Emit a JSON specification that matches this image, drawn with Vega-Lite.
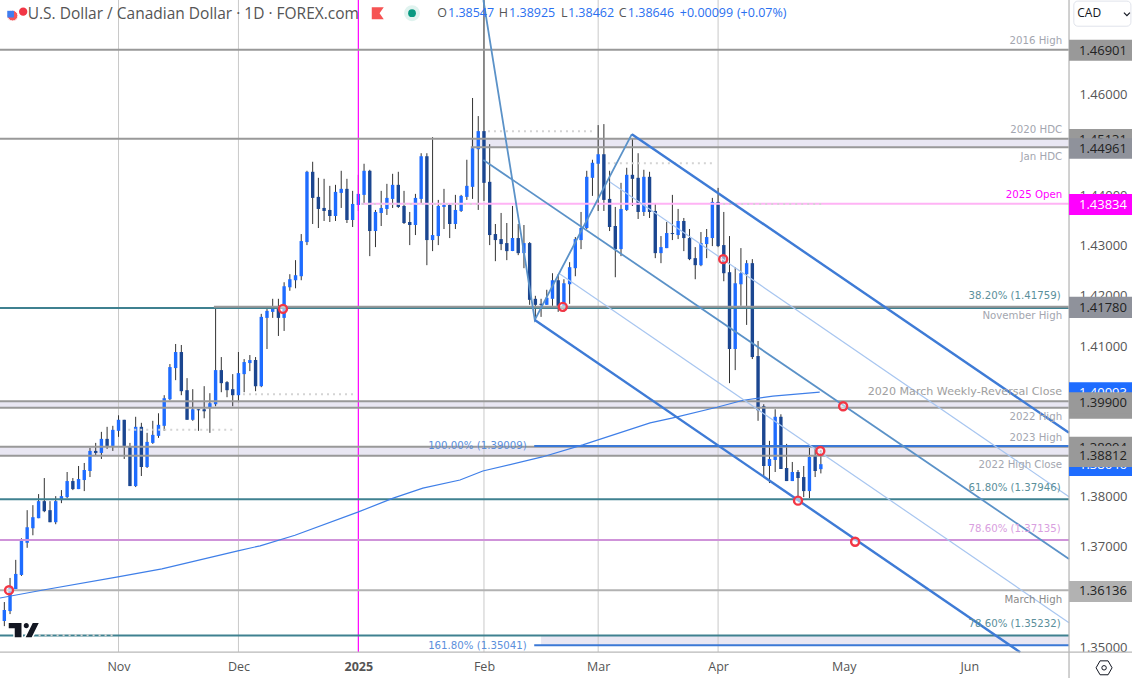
{
  "$schema": "https://vega.github.io/schema/vega-lite/v5.json",
  "description": "USD/CAD daily candles with levels and a descending pitchfork",
  "width": 1132,
  "height": 678,
  "autosize": {"type": "none"},
  "padding": 0,
  "background": "#ffffff",
  "datasets": {
    "candles": [
      {"i":0,"o":1.3552,"h":1.3590,"l":1.3542,"c":1.3574},{"i":1,"o":1.3572,"h":1.3638,"l":1.3566,"c":1.3618},{"i":2,"o":1.3616,"h":1.3674,"l":1.3616,"c":1.3646},{"i":3,"o":1.3644,"h":1.3717,"l":1.3642,"c":1.3712},
      {"i":4,"o":1.3708,"h":1.3773,"l":1.3698,"c":1.3739},{"i":5,"o":1.3737,"h":1.3783,"l":1.3723,"c":1.3759},{"i":6,"o":1.3757,"h":1.3805,"l":1.3757,"c":1.3791},{"i":7,"o":1.3791,"h":1.3837,"l":1.3769,"c":1.3771},
      {"i":8,"o":1.3773,"h":1.3791,"l":1.3749,"c":1.3749},{"i":9,"o":1.3749,"h":1.3801,"l":1.3745,"c":1.3791},{"i":10,"o":1.3793,"h":1.3813,"l":1.3787,"c":1.3801},{"i":11,"o":1.3799,"h":1.3849,"l":1.3797,"c":1.3831},
      {"i":12,"o":1.3831,"h":1.3837,"l":1.3813,"c":1.3815},{"i":13,"o":1.3815,"h":1.3861,"l":1.3815,"c":1.3835},{"i":14,"o":1.3833,"h":1.3867,"l":1.3811,"c":1.3853},{"i":15,"o":1.3851,"h":1.3897,"l":1.3839,"c":1.3891},
      {"i":16,"o":1.3891,"h":1.3907,"l":1.3883,"c":1.3887},{"i":17,"o":1.3887,"h":1.3929,"l":1.3875,"c":1.3915},{"i":18,"o":1.3915,"h":1.3939,"l":1.3895,"c":1.3901},{"i":19,"o":1.3901,"h":1.3941,"l":1.3891,"c":1.3933},
      {"i":20,"o":1.3931,"h":1.3962,"l":1.3919,"c":1.3953},{"i":21,"o":1.3953,"h":1.3953,"l":1.3875,"c":1.3901},{"i":22,"o":1.3899,"h":1.3907,"l":1.3821,"c":1.3821},{"i":23,"o":1.3821,"h":1.3959,"l":1.3819,"c":1.3939},
      {"i":24,"o":1.3939,"h":1.3947,"l":1.3841,"c":1.3859},{"i":25,"o":1.3859,"h":1.3927,"l":1.3857,"c":1.3909},{"i":26,"o":1.3907,"h":1.3951,"l":1.3905,"c":1.3923},{"i":27,"o":1.3921,"h":1.3966,"l":1.3917,"c":1.3943},
      {"i":28,"o":1.3941,"h":1.4002,"l":1.3931,"c":1.3996},{"i":29,"o":1.3994,"h":1.4064,"l":1.3992,"c":1.4058},{"i":30,"o":1.4056,"h":1.4104,"l":1.4032,"c":1.4088},{"i":31,"o":1.4088,"h":1.4102,"l":1.4002,"c":1.4010},
      {"i":32,"o":1.4012,"h":1.4036,"l":1.3953,"c":1.3953},{"i":33,"o":1.3953,"h":1.4014,"l":1.3951,"c":1.3974},{"i":34,"o":1.3974,"h":1.3974,"l":1.3931,"c":1.3972},{"i":35,"o":1.3974,"h":1.4020,"l":1.3956,"c":1.3970},
      {"i":36,"o":1.3976,"h":1.4006,"l":1.3927,"c":1.3986},{"i":37,"o":1.3984,"h":1.4174,"l":1.3980,"c":1.4052},{"i":38,"o":1.4052,"h":1.4078,"l":1.4008,"c":1.4026},{"i":39,"o":1.4028,"h":1.4030,"l":1.3998,"c":1.4012},
      {"i":40,"o":1.4014,"h":1.4044,"l":1.3980,"c":1.4002},{"i":41,"o":1.4002,"h":1.4088,"l":1.3988,"c":1.4046},{"i":42,"o":1.4044,"h":1.4074,"l":1.4008,"c":1.4068},{"i":43,"o":1.4066,"h":1.4082,"l":1.4050,"c":1.4072},
      {"i":44,"o":1.4072,"h":1.4078,"l":1.4010,"c":1.4020},{"i":45,"o":1.4020,"h":1.4164,"l":1.4018,"c":1.4158},{"i":46,"o":1.4156,"h":1.4174,"l":1.4094,"c":1.4170},{"i":47,"o":1.4168,"h":1.4194,"l":1.4156,"c":1.4176},
      {"i":48,"o":1.4176,"h":1.4194,"l":1.4120,"c":1.4156},{"i":49,"o":1.4156,"h":1.4227,"l":1.4130,"c":1.4219},{"i":50,"o":1.4217,"h":1.4243,"l":1.4210,"c":1.4233},{"i":51,"o":1.4231,"h":1.4271,"l":1.4215,"c":1.4241},
      {"i":52,"o":1.4239,"h":1.4323,"l":1.4231,"c":1.4309},{"i":53,"o":1.4307,"h":1.4449,"l":1.4301,"c":1.4447},{"i":54,"o":1.4447,"h":1.4467,"l":1.4343,"c":1.4395},{"i":55,"o":1.4397,"h":1.4435,"l":1.4335,"c":1.4373},
      {"i":56,"o":1.4375,"h":1.4433,"l":1.4349,"c":1.4369},{"i":57,"o":1.4371,"h":1.4419,"l":1.4347,"c":1.4359},{"i":58,"o":1.4359,"h":1.4421,"l":1.4349,"c":1.4407},{"i":59,"o":1.4405,"h":1.4449,"l":1.4375,"c":1.4413},
      {"i":60,"o":1.4413,"h":1.4433,"l":1.4345,"c":1.4351},{"i":61,"o":1.4351,"h":1.4409,"l":1.4337,"c":1.4383},{"i":62,"o":1.4381,"h":1.4441,"l":1.4369,"c":1.4403},{"i":63,"o":1.4401,"h":1.4463,"l":1.4383,"c":1.4449},
      {"i":64,"o":1.4449,"h":1.4451,"l":1.4279,"c":1.4329},{"i":65,"o":1.4329,"h":1.4371,"l":1.4297,"c":1.4367},{"i":66,"o":1.4365,"h":1.4409,"l":1.4339,"c":1.4375},{"i":67,"o":1.4373,"h":1.4423,"l":1.4361,"c":1.4395},
      {"i":68,"o":1.4393,"h":1.4443,"l":1.4375,"c":1.4421},{"i":69,"o":1.4421,"h":1.4447,"l":1.4375,"c":1.4377},{"i":70,"o":1.4379,"h":1.4409,"l":1.4343,"c":1.4345},{"i":71,"o":1.4347,"h":1.4367,"l":1.4301,"c":1.4341},
      {"i":72,"o":1.4341,"h":1.4403,"l":1.4321,"c":1.4395},{"i":73,"o":1.4393,"h":1.4484,"l":1.4383,"c":1.4478},{"i":74,"o":1.4478,"h":1.4484,"l":1.4261,"c":1.4311},{"i":75,"o":1.4311,"h":1.4516,"l":1.4289,"c":1.4321},
      {"i":76,"o":1.4319,"h":1.4391,"l":1.4301,"c":1.4379},{"i":77,"o":1.4377,"h":1.4413,"l":1.4333,"c":1.4381},{"i":78,"o":1.4381,"h":1.4383,"l":1.4315,"c":1.4343},{"i":79,"o":1.4343,"h":1.4401,"l":1.4333,"c":1.4371},
      {"i":80,"o":1.4369,"h":1.4401,"l":1.4367,"c":1.4399},{"i":81,"o":1.4397,"h":1.4471,"l":1.4391,"c":1.4419},{"i":82,"o":1.4417,"h":1.4594,"l":1.4393,"c":1.4494},{"i":83,"o":1.4492,"h":1.4558,"l":1.4371,"c":1.4528},
      {"i":84,"o":1.4528,"h":1.4789,"l":1.4389,"c":1.4425},{"i":85,"o":1.4427,"h":1.4502,"l":1.4301,"c":1.4321},{"i":86,"o":1.4323,"h":1.4343,"l":1.4269,"c":1.4311},{"i":87,"o":1.4313,"h":1.4365,"l":1.4291,"c":1.4303},
      {"i":88,"o":1.4305,"h":1.4345,"l":1.4271,"c":1.4289},{"i":89,"o":1.4289,"h":1.4379,"l":1.4289,"c":1.4315},{"i":90,"o":1.4315,"h":1.4343,"l":1.4281,"c":1.4285},{"i":91,"o":1.4285,"h":1.4341,"l":1.4255,"c":1.4305},
      {"i":92,"o":1.4305,"h":1.4307,"l":1.4182,"c":1.4192},{"i":93,"o":1.4194,"h":1.4200,"l":1.4152,"c":1.4182},{"i":94,"o":1.4184,"h":1.4194,"l":1.4158,"c":1.4182},{"i":95,"o":1.4182,"h":1.4212,"l":1.4182,"c":1.4196},
      {"i":96,"o":1.4194,"h":1.4245,"l":1.4180,"c":1.4231},{"i":97,"o":1.4231,"h":1.4243,"l":1.4168,"c":1.4180},{"i":98,"o":1.4174,"h":1.4233,"l":1.4168,"c":1.4225},{"i":99,"o":1.4223,"h":1.4267,"l":1.4184,"c":1.4257},
      {"i":100,"o":1.4255,"h":1.4317,"l":1.4239,"c":1.4313},{"i":101,"o":1.4311,"h":1.4367,"l":1.4293,"c":1.4335},{"i":102,"o":1.4335,"h":1.4449,"l":1.4333,"c":1.4437},{"i":103,"o":1.4435,"h":1.4471,"l":1.4399,"c":1.4465},
      {"i":104,"o":1.4463,"h":1.4540,"l":1.4369,"c":1.4482},{"i":105,"o":1.4482,"h":1.4542,"l":1.4369,"c":1.4391},{"i":106,"o":1.4393,"h":1.4449,"l":1.4329,"c":1.4337},{"i":107,"o":1.4339,"h":1.4377,"l":1.4237,"c":1.4293},
      {"i":108,"o":1.4293,"h":1.4425,"l":1.4279,"c":1.4373},{"i":109,"o":1.4371,"h":1.4455,"l":1.4369,"c":1.4441},{"i":110,"o":1.4441,"h":1.4514,"l":1.4379,"c":1.4433},{"i":111,"o":1.4435,"h":1.4484,"l":1.4353,"c":1.4367},
      {"i":112,"o":1.4367,"h":1.4451,"l":1.4359,"c":1.4437},{"i":113,"o":1.4437,"h":1.4447,"l":1.4355,"c":1.4367},{"i":114,"o":1.4369,"h":1.4383,"l":1.4275,"c":1.4285},{"i":115,"o":1.4285,"h":1.4319,"l":1.4265,"c":1.4297},
      {"i":116,"o":1.4295,"h":1.4347,"l":1.4295,"c":1.4325},{"i":117,"o":1.4325,"h":1.4401,"l":1.4311,"c":1.4323},{"i":118,"o":1.4321,"h":1.4373,"l":1.4313,"c":1.4349},{"i":119,"o":1.4349,"h":1.4355,"l":1.4289,"c":1.4315},
      {"i":120,"o":1.4315,"h":1.4333,"l":1.4271,"c":1.4273},{"i":121,"o":1.4275,"h":1.4297,"l":1.4233,"c":1.4261},{"i":122,"o":1.4261,"h":1.4327,"l":1.4259,"c":1.4305},{"i":123,"o":1.4303,"h":1.4333,"l":1.4275,"c":1.4317},
      {"i":124,"o":1.4315,"h":1.4395,"l":1.4299,"c":1.4387},{"i":125,"o":1.4387,"h":1.4415,"l":1.4297,"c":1.4299},{"i":126,"o":1.4301,"h":1.4367,"l":1.4229,"c":1.4245},{"i":127,"o":1.4247,"h":1.4319,"l":1.4026,"c":1.4094},
      {"i":128,"o":1.4094,"h":1.4257,"l":1.4052,"c":1.4225},{"i":129,"o":1.4223,"h":1.4295,"l":1.4180,"c":1.4245},{"i":130,"o":1.4243,"h":1.4271,"l":1.4142,"c":1.4265},{"i":131,"o":1.4265,"h":1.4273,"l":1.4074,"c":1.4078},
      {"i":132,"o":1.4080,"h":1.4110,"l":1.3951,"c":1.3972},{"i":133,"o":1.3980,"h":1.3984,"l":1.3841,"c":1.3861},{"i":134,"o":1.3861,"h":1.3911,"l":1.3827,"c":1.3875},{"i":135,"o":1.3873,"h":1.3974,"l":1.3849,"c":1.3959},
      {"i":136,"o":1.3959,"h":1.3964,"l":1.3855,"c":1.3855},{"i":137,"o":1.3857,"h":1.3905,"l":1.3831,"c":1.3831},{"i":138,"o":1.3831,"h":1.3869,"l":1.3831,"c":1.3849},{"i":139,"o":1.3849,"h":1.3853,"l":1.3793,"c":1.3837},
      {"i":140,"o":1.3839,"h":1.3861,"l":1.3799,"c":1.3811},{"i":141,"o":1.3811,"h":1.3897,"l":1.3797,"c":1.3879},{"i":142,"o":1.3881,"h":1.3899,"l":1.3839,"c":1.3851},{"i":143,"o":1.38547,"h":1.38925,"l":1.38462,"c":1.38646}
    ],
    "zones": [
      {"from":81.7,"to":186.46,"top":1.4513,"bottom":1.44961},
      {"from":-0.76,"to":186.46,"top":1.399,"bottom":1.3977},
      {"from":-0.76,"to":186.46,"top":1.38994,"bottom":1.38812},
      {"from":94,"to":186.46,"top":1.35232,"bottom":1.35041}
    ],
    "levels": [
      {"from":-0.76,"to":186.46,"price":1.46901,"kind":"gray"},
      {"from":-0.76,"to":186.46,"price":1.4513,"kind":"gray"},
      {"from":81.7,"to":186.46,"price":1.44961,"kind":"gray"},
      {"from":62.5,"to":186.46,"price":1.43834,"kind":"pink"},
      {"from":-0.76,"to":186.46,"price":1.41759,"kind":"teal"},
      {"from":36.7,"to":186.46,"price":1.4178,"kind":"gray"},
      {"from":-0.76,"to":186.46,"price":1.399,"kind":"gray"},
      {"from":-0.76,"to":186.46,"price":1.3977,"kind":"gray"},
      {"from":-0.76,"to":186.46,"price":1.38994,"kind":"gray"},
      {"from":-0.76,"to":186.46,"price":1.38812,"kind":"gray"},
      {"from":92.8,"to":186.46,"price":1.39009,"kind":"blue"},
      {"from":-0.76,"to":186.46,"price":1.37946,"kind":"teal"},
      {"from":-0.76,"to":186.46,"price":1.37135,"kind":"violet"},
      {"from":-0.76,"to":186.46,"price":1.36136,"kind":"light"},
      {"from":-0.76,"to":186.46,"price":1.35232,"kind":"teal"},
      {"from":92.8,"to":186.46,"price":1.35041,"kind":"blue"}
    ],
    "dotted": [
      {"from":84.7,"to":103.4,"price":1.4528},
      {"from":105.7,"to":124.5,"price":1.4464},
      {"from":62.6,"to":83,"price":1.4383},
      {"from":125.9,"to":143.2,"price":1.4383},
      {"from":41.8,"to":61.1,"price":1.4004},
      {"from":21.7,"to":40,"price":1.3933},
      {"from":6,"to":19.4,"price":1.3524}
    ],
    "grid": [
      {"i":20,"top":1.47892,"bottom":1.34904},
      {"i":41,"top":1.47892,"bottom":1.34904},
      {"i":84,"top":1.47892,"bottom":1.34904},
      {"i":104,"top":1.47892,"bottom":1.34904},
      {"i":125,"top":1.47892,"bottom":1.34904}
    ],
    "yearLine": [{"i":62,"top":1.47892,"bottom":1.34904}],
    "frame": [
      {"from":186.46,"to":186.46,"top":1.47892,"bottom":1.34387},
      {"from":-0.76,"to":197.49,"top":1.34904,"bottom":1.34904}
    ],
    "sma": [
      {"i":-0.76,"p":1.3598},{"i":6.8,"p":1.3614},{"i":19.9,"p":1.364},{"i":27.6,"p":1.3656},{"i":40.9,"p":1.3692},{"i":44.8,"p":1.3702},{"i":50.9,"p":1.3723},{"i":61.9,"p":1.3769},{"i":68.1,"p":1.3797},{"i":73.3,"p":1.3817},{"i":79.8,"p":1.3833},{"i":83.8,"p":1.3851},{"i":94.2,"p":1.3879},{"i":101.3,"p":1.3903},{"i":113.1,"p":1.3947},{"i":117.1,"p":1.3957},{"i":124.8,"p":1.3978},{"i":129.4,"p":1.3992},{"i":134.6,"p":1.4},{"i":142.8,"p":1.4008}
    ],
    "fork": [
      {"seg":"handle","kind":"mid","i":83.9,"p":1.4789},{"seg":"handle","kind":"mid","i":92.9,"p":1.4152},{"seg":"handle","kind":"mid","i":109.9,"p":1.4522},
      {"seg":"upper","kind":"outer","i":109.9,"p":1.4522},{"seg":"upper","kind":"outer","i":186.46,"p":1.3927},
      {"seg":"lower","kind":"outer","i":92.9,"p":1.4152},{"seg":"lower","kind":"outer","i":177.9,"p":1.349},
      {"seg":"median","kind":"mid","i":83.9,"p":1.44705},{"seg":"median","kind":"mid","i":186.46,"p":1.36757},
      {"seg":"thinLow","kind":"thin","i":97.3,"p":1.42434},{"seg":"thinLow","kind":"thin","i":186.46,"p":1.35488},
      {"seg":"thinHigh","kind":"thin","i":106,"p":1.44273},{"seg":"thinHigh","kind":"thin","i":186.46,"p":1.37998}
    ],
    "rings": [
      {"i":0.82,"p":1.36136},{"i":48.8,"p":1.4174},{"i":97.8,"p":1.4178},{"i":125.9,"p":1.4273},{"i":146.9,"p":1.398},{"i":142.9,"p":1.3891},{"i":139,"p":1.3792},{"i":149,"p":1.371}
    ],
    "labels": [
      {"text":"2016 High","i":185.25,"p":1.4708,"kind":"gray"},
      {"text":"2020 HDC","i":185.25,"p":1.453,"kind":"gray"},
      {"text":"Jan HDC","i":185.25,"p":1.4476,"kind":"gray"},
      {"text":"2025 Open","i":185.25,"p":1.4401,"kind":"magenta"},
      {"text":"38.20% (1.41759)","i":185,"p":1.42,"kind":"teal"},
      {"text":"November High","i":185.25,"p":1.416,"kind":"gray"},
      {"text":"2022 High","i":185.25,"p":1.3959,"kind":"gray"},
      {"text":"2023 High","i":185.25,"p":1.3917,"kind":"gray"},
      {"text":"2022 High Close","i":185.25,"p":1.3863,"kind":"gray"},
      {"text":"61.80% (1.37946)","i":185,"p":1.3818,"kind":"teal"},
      {"text":"78.60% (1.37135)","i":185,"p":1.3735,"kind":"violet"},
      {"text":"March High","i":185.25,"p":1.3594,"kind":"dark"},
      {"text":"78.60% (1.35232)","i":185,"p":1.3547,"kind":"teal"},
      {"text":"100.00% (1.39009)","i":91.5,"p":1.3901,"kind":"blue"},
      {"text":"161.80% (1.35041)","i":91.5,"p":1.3503,"kind":"blue"}
    ],
    "tagsBack": [
      {"text":"1.45131","from":186.46,"to":197.49,"at":188.2,"top":1.4532,"bottom":1.449,"p":1.451,"kind":"gray"},
      {"text":"1.40093","from":186.46,"to":197.49,"at":188.2,"top":1.4028,"bottom":1.3986,"p":1.4007,"kind":"blue"},
      {"text":"1.39771","from":186.46,"to":197.49,"at":188.2,"top":1.3996,"bottom":1.3955,"p":1.3976,"kind":"gray"},
      {"text":"1.38994","from":186.46,"to":197.49,"at":188.2,"top":1.3919,"bottom":1.3877,"p":1.3897,"kind":"gray"},
      {"text":"1.38646","from":186.46,"to":197.49,"at":188.2,"top":1.3885,"bottom":1.3841,"p":1.3863,"kind":"blue"}
    ],
    "tagsFront": [
      {"text":"1.46901","from":186.46,"to":197.49,"at":188.2,"top":1.471,"bottom":1.4668,"p":1.4687,"kind":"gray"},
      {"text":"1.44961","from":186.46,"to":197.49,"at":188.2,"top":1.4514,"bottom":1.4473,"p":1.4492,"kind":"slate"},
      {"text":"1.43834","from":186.46,"to":197.49,"at":188.2,"top":1.4403,"bottom":1.4361,"p":1.4381,"kind":"magenta"},
      {"text":"1.41780","from":186.46,"to":197.49,"at":188.2,"top":1.4198,"bottom":1.4156,"p":1.4176,"kind":"slate"},
      {"text":"1.39900","from":186.46,"to":197.49,"at":188.2,"top":1.4008,"bottom":1.3966,"p":1.3987,"kind":"gray"},
      {"text":"1.38812","from":186.46,"to":197.49,"at":188.2,"top":1.3901,"bottom":1.3859,"p":1.388,"kind":"gray"},
      {"text":"1.36136","from":186.46,"to":197.49,"at":188.2,"top":1.3632,"bottom":1.359,"p":1.3612,"kind":"light"}
    ],
    "legend": [
      {"text":"O","i":75.8,"kind":"head"},{"text":"1.38547","i":77.7,"kind":"value"},
      {"text":"H","i":86.6,"kind":"head"},{"text":"1.38925","i":88.4,"kind":"value"},
      {"text":"L","i":97.5,"kind":"head"},{"text":"1.38462","i":98.7,"kind":"value"},
      {"text":"C","i":107.6,"kind":"head"},{"text":"1.38646","i":109.2,"kind":"value"},
      {"text":"+0.00099","i":118.3,"kind":"value"},{"text":"(+0.07%)","i":128.3,"kind":"value"}
    ]
  },
  "layer": [
    {
      "data": {"name": "zones"},
      "mark": {"type": "rect", "color": "#e9e7f3"},
      "encoding": {
        "x": {
          "field": "from", "type": "quantitative",
          "scale": {"domain": [-0.758, 197.49], "nice": false, "zero": false, "padding": 0},
          "axis": {
            "orient": "bottom",
            "values": [20, 41, 62, 84, 104, 125, 147, 169],
            "labelExpr": "datum.value == 20 ? 'Nov' : datum.value == 41 ? 'Dec' : datum.value == 62 ? '2025' : datum.value == 84 ? 'Feb' : datum.value == 104 ? 'Mar' : datum.value == 125 ? 'Apr' : datum.value == 147 ? 'May' : 'Jun'",
            "labelFontWeight": {"condition": {"test": "datum.value == 62", "value": "bold"}, "value": "normal"},
            "labelPadding": -18,
            "labelBaseline": "top",
            "labelFont": "Open Sans",
            "labelFontSize": 12.5,
            "labelColor": "#555555",
            "labelOverlap": false,
            "labelFlush": false,
            "labelBound": false
          }
        },
        "x2": {"field": "to"},
        "y": {
          "field": "top", "type": "quantitative",
          "scale": {"domain": [1.34387, 1.47892], "nice": false, "zero": false, "padding": 0},
          "axis": {
            "orient": "right",
            "values": [1.35, 1.36, 1.37, 1.38, 1.39, 1.40, 1.41, 1.42, 1.43, 1.44, 1.45, 1.46, 1.47],
            "format": ".5f",
            "labelPadding": -53,
            "labelAlign": "left",
            "labelFont": "Open Sans",
            "labelFontSize": 13,
            "labelColor": "#555555",
            "labelOverlap": false,
            "labelFlush": false,
            "labelBound": false
          }
        },
        "y2": {"field": "bottom"}
      }
    },
    {
      "data": {"name": "grid"},
      "mark": {"type": "rule", "color": "#c9c9c9", "strokeWidth": 1},
      "encoding": {
        "x": {"field": "i", "type": "quantitative"},
        "y": {"field": "top", "type": "quantitative"},
        "y2": {"field": "bottom"}
      }
    },
    {
      "data": {"name": "candles"},
      "mark": {"type": "rule", "color": "#333333", "strokeWidth": 1},
      "encoding": {
        "x": {"field": "i", "type": "quantitative"},
        "y": {"field": "l", "type": "quantitative"},
        "y2": {"field": "h"}
      }
    },
    {
      "data": {"name": "candles"},
      "mark": {"type": "bar", "size": 3.4, "orient": "vertical"},
      "encoding": {
        "x": {"field": "i", "type": "quantitative"},
        "y": {"field": "o", "type": "quantitative"},
        "y2": {"field": "c"},
        "color": {"condition": {"test": "datum.c >= datum.o", "value": "#1e6cff"}, "value": "#1b4690"}
      }
    },
    {
      "data": {"name": "yearLine"},
      "mark": {"type": "rule", "color": "#ff00ff", "strokeWidth": 1.2},
      "encoding": {
        "x": {"field": "i", "type": "quantitative"},
        "y": {"field": "top", "type": "quantitative"},
        "y2": {"field": "bottom"}
      }
    },
    {
      "data": {"name": "levels"},
      "mark": {"type": "rule", "strokeWidth": 2},
      "encoding": {
        "x": {"field": "from", "type": "quantitative"},
        "x2": {"field": "to"},
        "y": {"field": "price", "type": "quantitative"},
        "color": {
          "field": "kind", "type": "nominal", "legend": null,
          "scale": {
            "domain": ["gray", "teal", "pink", "violet", "light", "blue"],
            "range": ["#999999", "#3f8190", "#ffb3f5", "#cf93d9", "#b2b2b2", "#3a78d6"]
          }
        }
      }
    },
    {
      "data": {"name": "dotted"},
      "mark": {"type": "rule", "color": "#d4d4d4", "strokeWidth": 2, "strokeDash": [2, 4]},
      "encoding": {
        "x": {"field": "from", "type": "quantitative"},
        "x2": {"field": "to"},
        "y": {"field": "price", "type": "quantitative"}
      }
    },
    {
      "data": {"name": "sma"},
      "mark": {"type": "line", "color": "#3f7fe8", "strokeWidth": 1.2},
      "encoding": {
        "x": {"field": "i", "type": "quantitative"},
        "y": {"field": "p", "type": "quantitative"}
      }
    },
    {
      "data": {"name": "fork"},
      "mark": {"type": "line"},
      "encoding": {
        "x": {"field": "i", "type": "quantitative"},
        "y": {"field": "p", "type": "quantitative"},
        "detail": {"field": "seg"},
        "color": {
          "field": "kind", "type": "nominal", "legend": null,
          "scale": {"domain": ["outer", "mid", "thin"], "range": ["#3e7bd6", "#5b92c8", "#a8c6f0"]}
        },
        "strokeWidth": {
          "field": "kind", "type": "nominal", "legend": null,
          "scale": {"domain": ["outer", "mid", "thin"], "range": [2.4, 1.2, 1.5]}
        }
      }
    },
    {
      "data": {"name": "rings"},
      "mark": {"type": "point", "shape": "circle", "size": 64, "filled": false, "stroke": "#f23645", "strokeWidth": 2.4, "fill": "#ffffff", "fillOpacity": 0.5, "opacity": 1},
      "encoding": {
        "x": {"field": "i", "type": "quantitative"},
        "y": {"field": "p", "type": "quantitative"}
      }
    },
    {
      "data": {"name": "labels"},
      "mark": {"type": "text", "align": "right", "baseline": "middle", "font": "DejaVu Sans", "fontSize": 10.2},
      "encoding": {
        "x": {"field": "i", "type": "quantitative"},
        "y": {"field": "p", "type": "quantitative"},
        "text": {"field": "text"},
        "color": {
          "field": "kind", "type": "nominal", "legend": null,
          "scale": {
            "domain": ["gray", "teal", "magenta", "violet", "dark", "blue"],
            "range": ["#a3a6af", "#5b8f9b", "#ff00ff", "#d9a0e0", "#8a8a8a", "#5b8fdc"]
          }
        }
      }
    },
    {
      "data": {"values": [{"text": "2020 March Weekly-Reversal Close", "i": 185.25, "p": 1.4008}]},
      "mark": {"type": "text", "align": "right", "baseline": "middle", "font": "DejaVu Sans", "fontSize": 11.1, "color": "#a0a0a0"},
      "encoding": {
        "x": {"field": "i", "type": "quantitative"},
        "y": {"field": "p", "type": "quantitative"},
        "text": {"field": "text"}
      }
    },
    {
      "data": {"name": "frame"},
      "mark": {"type": "rule", "color": "#b8b8b8", "strokeWidth": 1.3},
      "encoding": {
        "x": {"field": "from", "type": "quantitative"},
        "x2": {"field": "to"},
        "y": {"field": "top", "type": "quantitative"},
        "y2": {"field": "bottom"}
      }
    },
    {
      "data": {"name": "tagsBack"},
      "mark": {"type": "rect"},
      "encoding": {
        "x": {"field": "from", "type": "quantitative"},
        "x2": {"field": "to"},
        "y": {"field": "top", "type": "quantitative"},
        "y2": {"field": "bottom"},
        "color": {
          "field": "kind", "type": "nominal", "legend": null,
          "scale": {"domain": ["gray", "blue"], "range": ["#999999", "#1e6cff"]}
        }
      }
    },
    {
      "data": {"name": "tagsBack"},
      "mark": {"type": "text", "align": "left", "baseline": "middle", "font": "Open Sans", "fontSize": 13},
      "encoding": {
        "x": {"field": "at", "type": "quantitative"},
        "y": {"field": "p", "type": "quantitative"},
        "text": {"field": "text"},
        "color": {
          "field": "kind", "type": "nominal", "legend": null,
          "scale": {"domain": ["gray", "blue"], "range": ["#222222", "#ffffff"]}
        }
      }
    },
    {
      "data": {"name": "tagsFront"},
      "mark": {"type": "rect"},
      "encoding": {
        "x": {"field": "from", "type": "quantitative"},
        "x2": {"field": "to"},
        "y": {"field": "top", "type": "quantitative"},
        "y2": {"field": "bottom"},
        "color": {
          "field": "kind", "type": "nominal", "legend": null,
          "scale": {"domain": ["gray", "slate", "magenta", "light"], "range": ["#999999", "#8f929b", "#ff00ff", "#b2b2b2"]}
        }
      }
    },
    {
      "data": {"name": "tagsFront"},
      "mark": {"type": "text", "align": "left", "baseline": "middle", "font": "Open Sans", "fontSize": 13},
      "encoding": {
        "x": {"field": "at", "type": "quantitative"},
        "y": {"field": "p", "type": "quantitative"},
        "text": {"field": "text"},
        "color": {
          "field": "kind", "type": "nominal", "legend": null,
          "scale": {"domain": ["gray", "slate", "magenta", "light"], "range": ["#222222", "#222222", "#ffffff", "#222222"]}
        }
      }
    },
    {
      "data": {"values": [{"text": "U.S. Dollar / Canadian Dollar · 1D · FOREX.com", "i": 4.1, "p": 1.4761}]},
      "mark": {"type": "text", "align": "left", "baseline": "middle", "font": "Open Sans", "fontSize": 15.5, "color": "#555555"},
      "encoding": {
        "x": {"field": "i", "type": "quantitative"},
        "y": {"field": "p", "type": "quantitative"},
        "text": {"field": "text"}
      }
    },
    {
      "data": {"name": "legend"},
      "mark": {"type": "text", "align": "left", "baseline": "middle", "font": "Open Sans", "fontSize": 12.5},
      "encoding": {
        "x": {"field": "i", "type": "quantitative"},
        "y": {"datum": 1.4763},
        "text": {"field": "text"},
        "color": {
          "field": "kind", "type": "nominal", "legend": null,
          "scale": {"domain": ["head", "value"], "range": ["#555555", "#2a6ff0"]}
        }
      }
    },
    {
      "data": {"values": [{"i": 65.4, "p": 1.4763}]},
      "mark": {"type": "point", "shape": "M-1 -1 H1 L.3 0 L1 1 H-1 Z", "size": 144, "filled": true, "color": "#f65353", "opacity": 1},
      "encoding": {
        "x": {"field": "i", "type": "quantitative"},
        "y": {"field": "p", "type": "quantitative"}
      }
    },
    {
      "data": {"values": [{"i": 71.4, "p": 1.4763}]},
      "mark": {"type": "circle", "size": 254, "color": "#e0f3ef", "opacity": 1},
      "encoding": {
        "x": {"field": "i", "type": "quantitative"},
        "y": {"field": "p", "type": "quantitative"}
      }
    },
    {
      "data": {"values": [{"i": 71.4, "p": 1.4763}]},
      "mark": {"type": "circle", "size": 60, "color": "#089981", "opacity": 1},
      "encoding": {
        "x": {"field": "i", "type": "quantitative"},
        "y": {"field": "p", "type": "quantitative"}
      }
    },
    {
      "data": {"values": [{"i": 3.3, "p": 1.4766}]},
      "mark": {"type": "circle", "size": 70, "color": "#f23645", "opacity": 1},
      "encoding": {
        "x": {"field": "i", "type": "quantitative"},
        "y": {"field": "p", "type": "quantitative"}
      }
    },
    {
      "data": {"values": [{"i": 1.45, "p": 1.4758}]},
      "mark": {"type": "circle", "size": 113, "color": "#f4555a", "opacity": 1, "stroke": "#ffffff", "strokeWidth": 1},
      "encoding": {
        "x": {"field": "i", "type": "quantitative"},
        "y": {"field": "p", "type": "quantitative"}
      }
    },
    {
      "data": {"values": [{"i": 1.1, "p": 1.4761}]},
      "mark": {"type": "square", "size": 45, "color": "#3f7df0", "opacity": 1},
      "encoding": {
        "x": {"field": "i", "type": "quantitative"},
        "y": {"field": "p", "type": "quantitative"}
      }
    },
    {
      "data": {"values": [{"i": 3.4, "p": 1.3534}]},
      "mark": {"type": "point", "shape": "M-1 -.47 H-.15 V.47 H-.6 V-.13 H-1 Z M0 -.3 a.17 .17 0 1 1 .34 0 a.17 .17 0 1 1 -.34 0 Z M.6 -.47 H1 L.53 .47 H.13 Z", "size": 900, "filled": false, "stroke": "#ffffff", "strokeWidth": 3, "opacity": 1},
      "encoding": {
        "x": {"field": "i", "type": "quantitative"},
        "y": {"field": "p", "type": "quantitative"}
      }
    },
    {
      "data": {"values": [{"i": 3.4, "p": 1.3534}]},
      "mark": {"type": "point", "shape": "M-1 -.47 H-.15 V.47 H-.6 V-.13 H-1 Z M0 -.3 a.17 .17 0 1 1 .34 0 a.17 .17 0 1 1 -.34 0 Z M.6 -.47 H1 L.53 .47 H.13 Z", "size": 900, "filled": true, "color": "#131722", "opacity": 1},
      "encoding": {
        "x": {"field": "i", "type": "quantitative"},
        "y": {"field": "p", "type": "quantitative"}
      }
    },
    {
      "data": {"values": [{"from": 187.3, "to": 197.3, "top": 1.4787, "bottom": 1.4737}]},
      "mark": {"type": "rect", "fill": "#ffffff", "stroke": "#e0e3eb", "strokeWidth": 1, "cornerRadius": 4},
      "encoding": {
        "x": {"field": "from", "type": "quantitative"},
        "x2": {"field": "to"},
        "y": {"field": "top", "type": "quantitative"},
        "y2": {"field": "bottom"}
      }
    },
    {
      "data": {"values": [{"text": "CAD", "i": 187.9, "p": 1.4763}]},
      "mark": {"type": "text", "align": "left", "baseline": "middle", "font": "Open Sans", "fontSize": 12, "color": "#131722"},
      "encoding": {
        "x": {"field": "i", "type": "quantitative"},
        "y": {"field": "p", "type": "quantitative"},
        "text": {"field": "text"}
      }
    },
    {
      "data": {"values": [{"i": 196.6, "p": 1.4761}]},
      "mark": {"type": "point", "shape": "M-1 -.5 L0 .5 L1 -.5", "size": 36, "filled": false, "stroke": "#131722", "strokeWidth": 1.2, "opacity": 1},
      "encoding": {
        "x": {"field": "i", "type": "quantitative"},
        "y": {"field": "p", "type": "quantitative"}
      }
    },
    {
      "data": {"values": [{"i": 192.6, "p": 1.3459}]},
      "mark": {"type": "point", "shape": "M-.5 -.87 L.5 -.87 L1 0 L.5 .87 L-.5 .87 L-1 0 Z", "size": 256, "filled": false, "stroke": "#131722", "strokeWidth": 1, "opacity": 1},
      "encoding": {
        "x": {"field": "i", "type": "quantitative"},
        "y": {"field": "p", "type": "quantitative"}
      }
    },
    {
      "data": {"values": [{"i": 192.6, "p": 1.3459}]},
      "mark": {"type": "point", "shape": "circle", "size": 20, "filled": false, "stroke": "#131722", "strokeWidth": 1, "opacity": 1},
      "encoding": {
        "x": {"field": "i", "type": "quantitative"},
        "y": {"field": "p", "type": "quantitative"}
      }
    }
  ],
  "resolve": {"scale": {"color": "independent", "strokeWidth": "independent"}},
  "config": {
    "axis": {"title": null, "grid": false, "domain": false, "ticks": false},
    "view": {"stroke": null}
  }
}
